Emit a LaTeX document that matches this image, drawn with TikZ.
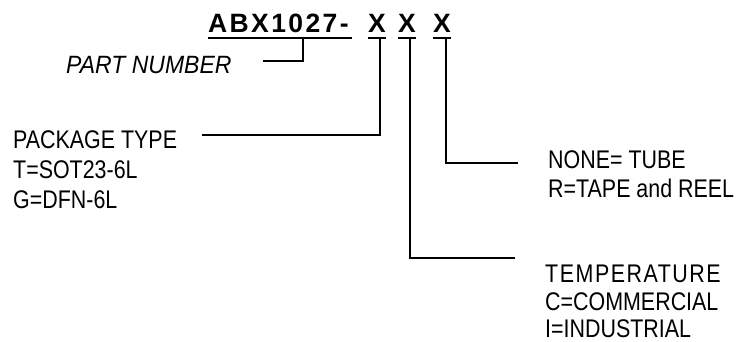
\documentclass[tikz,border=0pt]{standalone}
\usepackage{fontspec}
\setmainfont{Liberation Sans}
\newfontfamily\narrowfont[FakeStretch=0.84]{Liberation Sans}
\newfontfamily\titlefont[LetterSpace=9]{Liberation Sans}
\newfontfamily\tempfont[FakeStretch=0.84,LetterSpace=6]{Liberation Sans}
\newfontfamily\pnfont[FakeStretch=0.92]{Liberation Sans}
\begin{document}
\begin{tikzpicture}[x=1pt,y=-1pt,
  lbl/.style={anchor=base west,inner sep=0pt,font=\narrowfont\fontsize{25.5}{30}\selectfont},
  ttl/.style={anchor=base west,inner sep=0pt,font=\titlefont\bfseries\fontsize{26.5}{30}\selectfont},
  xch/.style={anchor=base,inner sep=0pt,font=\bfseries\fontsize{26.5}{30}\selectfont},
  conn/.style={line width=1.8pt},
  uline/.style={line width=2pt}]
\useasboundingbox (0,0) rectangle (738,341);

% title
\node[ttl] (title) at (208,32) {ABX1027-};
\node[xch] (xa) at (377,32) {X};
\node[xch] (xb) at (407,32) {X};
\node[xch] (xc) at (442,32) {X};
\draw[uline] (208,38) -- (352,38);
\draw[uline] (368,38) -- (386,38);
\draw[uline] (398,38) -- (416,38);
\draw[uline] (433,38) -- (451,38);

% labels
\node[lbl,font=\pnfont\itshape\fontsize{25}{30}\selectfont] (pn) at (66,73) {PART NUMBER};
\node[lbl] (pk1) at (13,148) {PACKAGE TYPE};
\node[lbl] (pk2) at (13,178) {T=SOT23-6L};
\node[lbl] (pk3) at (13,208) {G=DFN-6L};
\node[lbl] (pa1) at (548,168) {NONE= TUBE};
\node[lbl] (pa2) at (548,197) {R=TAPE and REEL};
\node[lbl,font=\tempfont\fontsize{25.5}{30}\selectfont] (te1) at (545,282) {TEMPERATURE};
\node[lbl] (te2) at (545,310) {C=COMMERCIAL};
\node[lbl] (te3) at (545,337) {I=INDUSTRIAL};

% connector anchors
\coordinate (pnTop) at (303,38);
\coordinate (pnEnd) at (263,61);
\coordinate (aTop) at (380,38);
\coordinate (aEnd) at (202,135);
\coordinate (bTop) at (410,38);
\coordinate (bEnd) at (515,258);
\coordinate (cTop) at (446,38);
\coordinate (cEnd) at (518,163);

\draw[conn] (pnTop) |- (pnEnd);
\draw[conn] (aTop) |- (aEnd);
\draw[conn] (bTop) |- (bEnd);
\draw[conn] (cTop) |- (cEnd);
\end{tikzpicture}
\end{document}
